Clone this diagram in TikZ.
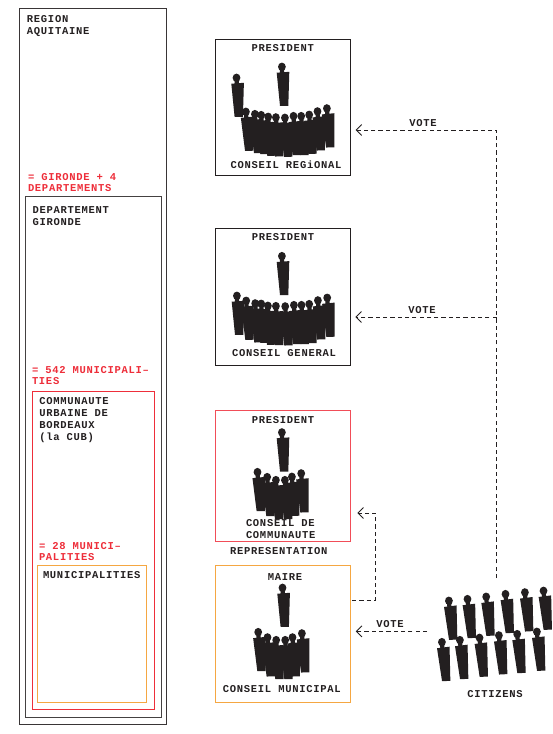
\documentclass[tikz,border=0pt]{standalone}
\usepackage{fontspec}
\usetikzlibrary{arrows.meta}
\newfontfamily\lab[LetterSpace=6.7]{Liberation Mono}
\definecolor{ink}{HTML}{231F20}
\definecolor{redc}{HTML}{EE2E3A}
\definecolor{orangec}{HTML}{F5A742}
\tikzset{
  person/.pic={
    \fill[ink] (0.2,0.1) ellipse [x radius=3.9,y radius=4.2];
    \fill[ink] (-1.9,0) -- (2.4,0) -- (2.5,7) -- (-1.7,7) -- cycle;
    \fill[ink] (-5,6) -- (7.6,5.1) -- (6.6,39.2) -- (-1.7,39.2) -- cycle;
  },
  boxn/.style={draw=#1,line width=1pt,fill=none,inner sep=0pt,outer sep=0pt},
  txt/.style={text=ink,font=\lab\bfseries\fontsize{10.5}{12}\selectfont,inner sep=0pt,outer sep=0pt},
  blocktxt/.style={txt,anchor=north west,align=left},
  redtxt/.style={blocktxt,text=redc,font=\lab\bfseries\fontsize{10.5}{11}\selectfont},
  votecon/.style={draw=ink,line width=1pt,dash pattern=on 4.2pt off 3.1pt,-{Straight Barb[length=5.5pt,width=11pt,line width=.9pt]}}
}
\begin{document}
\begin{tikzpicture}[x=1pt,y=-1pt]
\useasboundingbox (0,0) rectangle (552,734);
\fill[white] (0,0) rectangle (552,734);
% left nested boxes
\node[boxn=ink!90,minimum width=146.6pt,minimum height=716pt] (region) at (93,366) {};
\node[boxn=ink!85,minimum width=135.3pt,minimum height=520.3pt] (dept) at (93.35,456.85) {};
\node[boxn=redc,minimum width=122.3pt,minimum height=318.3pt] (cub) at (93.15,550.15) {};
\node[boxn=orangec,minimum width=109.4pt,minimum height=136.7pt] (muni) at (92,633.65) {};
% right boxes
\node[boxn=ink,minimum width=135pt,minimum height=136.4pt] (boxR) at (282.5,107.5) {};
\node[boxn=ink,minimum width=135.4pt,minimum height=137pt] (boxG) at (282.8,296.5) {};
\node[boxn=redc!85!white,minimum width=135pt,minimum height=131pt] (boxC) at (282.8,475.5) {};
\node[boxn=orangec,minimum width=135pt,minimum height=136.3pt] (boxM) at (282.8,633.85) {};
% left texts
\node[blocktxt] (tregion) at (27,15.5) {REGION\\AQUITAINE};
\node[redtxt] (tgironde) at (28,173.2) {= GIRONDE + 4\\DEPARTEMENTS};
\node[blocktxt] (tdept) at (32.7,206.2) {DEPARTEMENT\\GIRONDE};
\node[redtxt] (t542) at (32,366.5) {= 542 MUNICIPALI–\\TIES};
\node[blocktxt] (tcub) at (39.3,397.8) {COMMUNAUTE\\URBAINE DE\\BORDEAUX\\(la CUB)};
\node[redtxt] (t28) at (39,542.2) {= 28 MUNICI–\\PALITIES};
\node[blocktxt] (tmuni) at (43,571.2) {MUNICIPALITIES};
% right texts
\node[txt] (pR) at (282.7,47.7) {PRESIDENT};
\node[txt] (cR) at (286,164.3) {CONSEIL REGiONAL};
\node[txt] (pG) at (283,237) {PRESIDENT};
\node[txt] (cG) at (284,353.5) {CONSEIL GENERAL};
\node[txt] (pC) at (283,419.7) {PRESIDENT};
\node[blocktxt] (cC) at (246,519.2) {CONSEIL DE\\COMMUNAUTE};
\node[txt] (rep) at (278.8,550.7) {REPRESENTATION};
\node[txt] (pM) at (285,576.7) {MAIRE};
\node[txt] (cM) at (281.8,688.7) {CONSEIL MUNICIPAL};
\node[txt] (cit) at (495,694.3) {CITIZENS};
\node[txt] (v1) at (423,123) {VOTE};
\node[txt] (v2) at (422,310) {VOTE};
\node[txt] (v3) at (390,624.3) {VOTE};
% figures
\foreach \x/\y in {281.7/66.7,236.3/77.7,281.7/256,281.7/432.3,282.3/587.7,236.7/295.7}
  \pic at (\x,\y) {person};
\foreach \x/\y in {245.7/111.7,254.7/114,261/115,268/116.7,275.7/117.3,284.7/117.7,293.3/116,301/116,309/114.7,317.3/111.3,326.7/108.3,
  246/300.7,255/303.3,261/303.7,267.7/305.7,275.7/306,285/306.3,293.7/305,301.3/305,309/304,317.7/300.3,327/297.7,
  257.3/472,267/477,275.7/480,284.7/480,291.7/476.7,301/473.3,
  258/632,267.3/637.3,276/640,285/640,292.3/637.3,301.7/633.3}
  \pic[rotate=1.5] at (\x,\y) {person};
\foreach \x/\y in {448.7/600.7,467.3/599,486/596.7,505.3/594,524.7/592.3,543.3/590.7,
  441.7/642,459.7/640,479.3/637.7,498.7/635.3,517/634,536.7/631.7}
  \pic[rotate=3] at (\x,\y) {person};
% connectors
\coordinate (busEnd) at (496.7,578);
\coordinate (busR) at (496.7,130);
\coordinate (busG) at (496.7,317);
\coordinate (citL) at (427,631.4);
\coordinate (el1) at (375.3,600.3);
\coordinate (el2) at (375.3,513);
\draw[votecon] (busEnd) -- (busR) -- ([xshift=5.5pt]boxR.east |- busR);
\draw[votecon] (busG) -- ([xshift=4.8pt]boxG.east |- busG);
\draw[votecon] (citL) -- ([xshift=5.5pt]boxM.east |- citL);
\draw[votecon] ([xshift=1.8pt]boxM.east |- el1) -- (el1) -- (el2) -- ([xshift=7pt]boxC.east |- el2);
\end{tikzpicture}
\end{document}
